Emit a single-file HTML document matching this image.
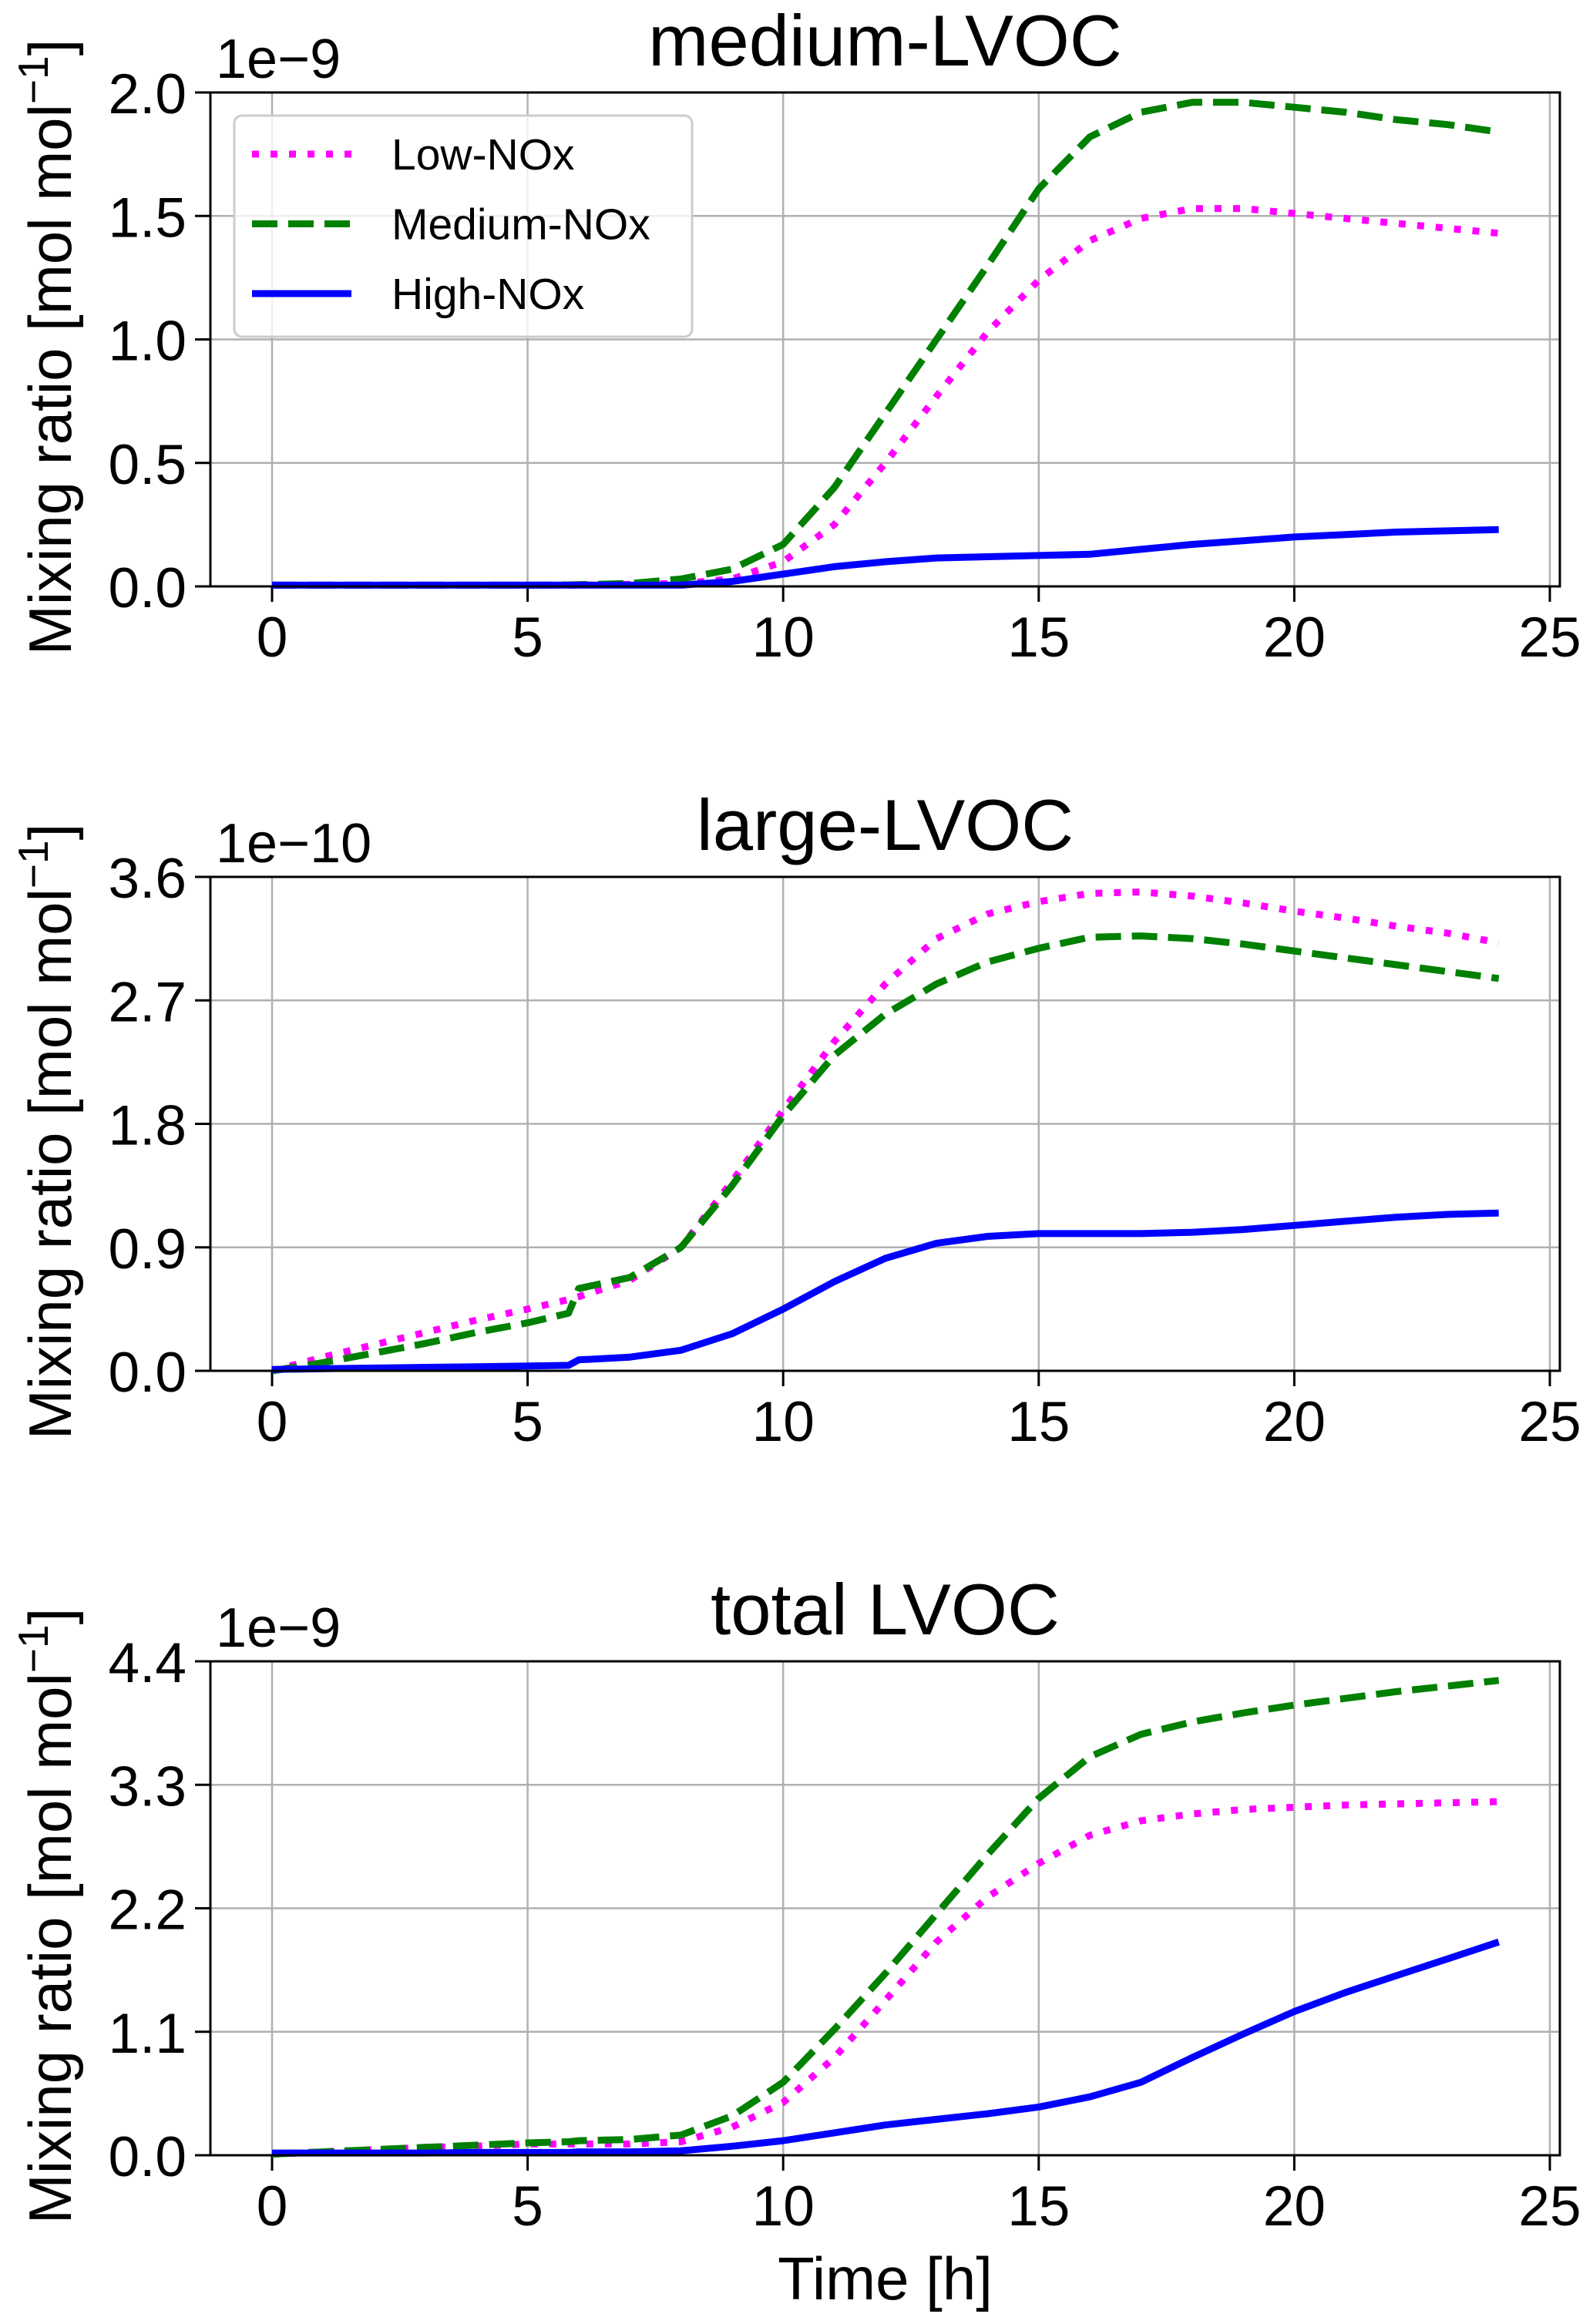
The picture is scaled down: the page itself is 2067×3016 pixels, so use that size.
<!DOCTYPE html>
<html><head><meta charset="utf-8">
<style>html,body{margin:0;padding:0;background:#fff}svg{display:block}text{font-family:"Liberation Sans",sans-serif;fill:#000}</style>
</head><body>
<svg id="fig" width="2067" height="3016" viewBox="0 0 2067 3016" xmlns="http://www.w3.org/2000/svg"></svg>
<script>
const times=[0,1,2,3,4,5,5.8,6,7,8,9,10,11,12,13,14,15,16,17,18,19,20,21,22,23,24];
const xTicks=[0,5,10,15,20,25];
const titles=["medium-LVOC","large-LVOC","total LVOC"];
const exps=["1e\u22129","1e\u221210","1e\u22129"];
const yTicks1=[0,0.5,1.0,1.5,2.0];
const yTicks2=[0,0.9,1.8,2.7,3.6];
const yTicks3=[0,1.1,2.2,3.3,4.4];
const yLabels1=["0.0","0.5","1.0","1.5","2.0"];
const yLabels2=["0.0","0.9","1.8","2.7","3.6"];
const yLabels3=["0.0","1.1","2.2","3.3","4.4"];
const low1=[.005,.005,.005,.005,.005,.005,.005,.005,.008,.012,.03,.1,.25,.5,.77,1.03,1.24,1.40,1.49,1.53,1.53,1.51,1.49,1.47,1.45,1.43];
const med1=[.005,.005,.005,.005,.005,.005,.006,.007,.012,.03,.07,.17,.4,.7,1.0,1.3,1.61,1.82,1.92,1.96,1.96,1.94,1.92,1.89,1.87,1.84];
const high1=[.005,.005,.005,.005,.005,.005,.005,.005,.005,.005,.02,.05,.08,.1,.115,.12,.125,.13,.15,.17,.185,.2,.21,.22,.225,.23];
const low2=[0,.1,.19,.28,.37,.45,.52,.54,.66,.9,1.38,1.9,2.4,2.82,3.15,3.33,3.42,3.48,3.49,3.46,3.41,3.35,3.3,3.24,3.19,3.12];
const med2=[0,.06,.13,.2,.28,.35,.42,.6,.68,.9,1.35,1.86,2.3,2.6,2.82,2.98,3.08,3.16,3.17,3.15,3.11,3.06,3.01,2.96,2.91,2.86];
const high2=[.01,.015,.02,.025,.03,.035,.04,.08,.1,.15,.27,.45,.65,.82,.93,.98,1.0,1.0,1.0,1.01,1.03,1.06,1.09,1.12,1.14,1.15];
const low3=[.01,.03,.05,.07,.08,.1,.1,.1,.1,.12,.25,.47,.87,1.38,1.9,2.3,2.6,2.85,2.98,3.04,3.08,3.1,3.12,3.13,3.14,3.15];
const med3=[.01,.03,.05,.07,.09,.11,.12,.13,.14,.18,.35,.65,1.12,1.62,2.15,2.68,3.18,3.55,3.75,3.86,3.94,4.01,4.07,4.13,4.18,4.23];
const high3=[.02,.02,.02,.02,.025,.025,.025,.03,.03,.04,.08,.13,.2,.27,.32,.37,.43,.52,.65,.87,1.08,1.28,1.45,1.6,1.75,1.9];

const NS="http://www.w3.org/2000/svg";
const svg=document.getElementById('fig');
function mk(tag,attrs,parent,txt){const e=document.createElementNS(NS,tag);for(const k in attrs)e.setAttribute(k,attrs[k]);if(txt!==undefined)e.textContent=txt;(parent||svg).appendChild(e);return e;}
const L=273,R=2024,X0=353,XU=(2011-353)/25;
const tops=[120,1138,2156],H=641;
const panels=[
 {yt:yTicks1,yl:yLabels1,ymax:2.0,s:[low1,med1,high1]},
 {yt:yTicks2,yl:yLabels2,ymax:3.6,s:[low2,med2,high2]},
 {yt:yTicks3,yl:yLabels3,ymax:4.4,s:[low3,med3,high3]}];
const styles=[
 {c:"#ff00ff",d:"9 15",n:"low-nox"},
 {c:"#008000",d:"33 14",n:"medium-nox"},
 {c:"#0000ff",d:"",n:"high-nox"}];
panels.forEach((p,i)=>{
 const top=tops[i],bot=top+H;
 const xs=t=>X0+t*XU, ys=v=>bot-v/p.ymax*H;
 const g=mk('g',{});
 
 
 xTicks.forEach(t=>{
  const gl=mk('line',{x1:xs(t),x2:xs(t),y1:top,y2:bot,stroke:"#b0b0b0","stroke-width":2.5},g);
  
  mk('line',{x1:xs(t),x2:xs(t),y1:bot,y2:bot+20,stroke:"#000","stroke-width":3},g);
  const tl=mk('text',{x:xs(t),y:bot+91,"font-size":73,"text-anchor":"middle"},g,String(t));
  
 });
 p.yt.forEach((v,k)=>{
  const gl=mk('line',{x1:L,x2:R,y1:ys(v),y2:ys(v),stroke:"#b0b0b0","stroke-width":2.5},g);
  
  mk('line',{x1:L-20,x2:L,y1:ys(v),y2:ys(v),stroke:"#000","stroke-width":3},g);
  const tl=mk('text',{x:242,y:ys(v)+27,"font-size":73,"text-anchor":"end"},g,p.yl[k]);
  
 });
 p.s.forEach((arr,j)=>{
  const pts=arr.map((v,k)=>xs(times[k]).toFixed(1)+","+ys(v).toFixed(1)).join(" ");
  const pl=mk('polyline',{points:pts,fill:"none",stroke:styles[j].c,"stroke-width":9,"stroke-dasharray":styles[j].d,"stroke-linejoin":"round"},g);
  
  
 });
 const fr=mk('rect',{x:L,y:top,width:R-L,height:H,fill:"none",stroke:"#000","stroke-width":3},g);
 
 const ti=mk('text',{x:(L+R)/2,y:top-35,"font-size":94,"text-anchor":"middle"},g,titles[i]);
 
 const ex=mk('text',{x:280,y:top-19,"font-size":72},g,exps[i]);
 
 const yl=mk('text',{x:0,y:0,"font-size":78,"text-anchor":"middle",transform:`translate(92,${top+H/2+10}) rotate(-90)`},g);
 
 yl.innerHTML='Mixing ratio [mol mol<tspan dy="-30" font-size="55">\u22121</tspan><tspan dy="30">]</tspan>';
});
// legend
const lg=mk('g',{});


mk('rect',{x:304,y:150,width:594,height:287,rx:10,fill:"#fff","fill-opacity":0.8,stroke:"#cccccc","stroke-width":3},lg);
const names=["Low-NOx","Medium-NOx","High-NOx"];
names.forEach((n,j)=>{
 const y=200+j*90.5;
 const e=mk('g',{},lg);
 
 
 mk('line',{x1:327,x2:456,y1:y,y2:y,stroke:styles[j].c,"stroke-width":9,"stroke-dasharray":styles[j].d},e);
 mk('text',{x:508,y:y+20,"font-size":57},e,n);
});
const xl=mk('text',{x:(L+R)/2,y:2984,"font-size":78,"text-anchor":"middle"},svg,"Time [h]");


</script>
</body></html>
